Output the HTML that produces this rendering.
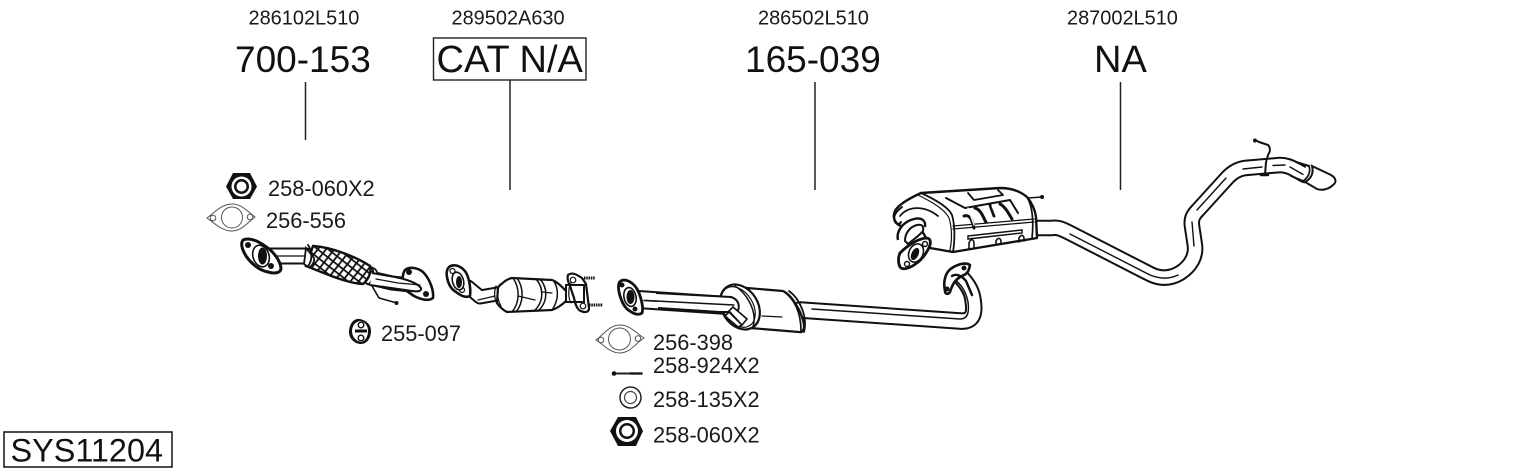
<!DOCTYPE html>
<html><head><meta charset="utf-8"><style>
html,body{margin:0;padding:0;background:#fff;width:1530px;height:474px;overflow:hidden}
svg{display:block}
text{font-family:"Liberation Sans",sans-serif;fill:#1a1a1a}
.s{font-size:19.95px}.m{font-size:21.8px}.b{font-size:37px;fill:#111}
.k{fill:none;stroke:#111;stroke-linecap:round;stroke-linejoin:round}
.w{fill:none;stroke:#fff;stroke-linecap:round;stroke-linejoin:round}
.f{fill:#fff;stroke:#111;stroke-width:2.4;stroke-linejoin:round}
.t{fill:none;stroke:#111;stroke-width:1.2;stroke-linecap:round;stroke-linejoin:round}
.h{fill:#fff;stroke:#111;stroke-width:1.6}
</style></head><body>
<svg width="1530" height="474" viewBox="0 0 1530 474" xmlns="http://www.w3.org/2000/svg">
<defs>
<pattern id="mesh" width="6.5" height="6.5" patternUnits="userSpaceOnUse" patternTransform="rotate(38)">
<rect width="6.5" height="6.5" fill="#fff"/>
<path d="M0 0H6.500M0 0V6.500" stroke="#111" stroke-width="3.600"/>
</pattern>
</defs>

<!-- labels -->
<text class="s" x="248.5" y="24.5">286102L510</text>
<text class="s" x="451.5" y="24.5">289502A630</text>
<text class="s" x="758" y="24.5">286502L510</text>
<text class="s" x="1067" y="24.5">287002L510</text>
<text class="b" x="235" y="72">700-153</text>
<text class="b" x="436.500" y="72" style="font-size:38px">CAT N/A</text>
<text class="b" x="745" y="72">165-039</text>
<text class="b" x="1094" y="72" style="font-size:38px">NA</text>
<rect x="433.5" y="38" width="152.500" height="42" fill="none" stroke="#222" stroke-width="1.4"/>
<path d="M305.5 82V140M510 80V190M815 82V190M1120.5 82V190" stroke="#222" stroke-width="1.5" fill="none"/>
<text class="m" x="268" y="196">258-060X2</text>
<text class="m" x="266" y="228">256-556</text>
<text class="m" x="381" y="341">255-097</text>
<text class="m" x="653" y="350">256-398</text>
<text class="m" x="653" y="373">258-924X2</text>
<text class="m" x="653" y="407">258-135X2</text>
<text class="m" x="653" y="442.500">258-060X2</text>
<rect x="4" y="432" width="168" height="35" fill="none" stroke="#111" stroke-width="1.5"/>
<text x="10.5" y="461.500" style="font-size:32.4px;fill:#111">SYS11204</text>

<!-- nut 1 -->
<path d="M233 173H250L257 186.500L250 199H233L226 186.500Z" fill="#111"/>
<circle cx="241.500" cy="186.500" r="10" fill="#fff"/>
<circle cx="241.500" cy="186.500" r="7.500" fill="#111"/><circle cx="241.500" cy="186.500" r="5" fill="#fff"/>
<!-- gasket 1 -->
<path d="M207 218C215 212 222 204 232 204C242 204 248 212 255 217C248 222 242 231 232 231C222 231 214 223 207 218Z" fill="#fff" stroke="#555" stroke-width="1"/>
<circle cx="232" cy="217.500" r="10.500" fill="#fff" stroke="#555" stroke-width="1"/>
<circle cx="213" cy="218" r="2.800" fill="#fff" stroke="#555"/><circle cx="250" cy="217" r="2.800" fill="#fff" stroke="#555"/>

<!-- front pipe -->
<path d="M264 256H306" class="k" stroke-width="17"/><path d="M264 256H306" class="w" stroke-width="13"/>
<path d="M274 256H305" class="t"/>
<path d="M370 278L392 283L420 286" class="k" stroke-width="15"/><path d="M370 278L392 283L420 286" class="w" stroke-width="11"/>
<path d="M378 279L395 282L420 284" class="t"/>
<path d="M372 286L379 298L397 303" class="t" style="stroke-width:1.6"/><circle cx="396.500" cy="303" r="2" fill="#111"/>
<path d="M313 246C330 247 355 256 370 266C372 272 368 280 363 284C345 283 322 272 306 266C309 258 311 252 313 246Z" fill="url(#mesh)" stroke="#111" stroke-width="2.400"/>
<path d="M306 248L314 258C315 262 311 268 308 267L304 264Z" fill="#fff" stroke="#111" stroke-width="1.800"/>
<path d="M308 245C312 250 313 260 308 266" class="t" style="stroke-width:1.800"/>
<path d="M371 267C374 270 375 278 369 284L376 286C380 280 378 272 375 269Z" fill="#fff" stroke="#111" stroke-width="1.800"/>
<path d="M243 240C250 237 258 241 265 246C273 251 280 260 281 268C281 273 275 274 268 272C258 270 250 262 246 256C243 251 240 244 243 240Z" class="f" style="stroke-width:3"/>
<circle cx="248" cy="245" r="3" fill="#111"/><circle cx="271" cy="266" r="3" fill="#111"/>
<ellipse cx="261" cy="256" rx="8" ry="11" transform="rotate(-18 261 256)" class="h"/>
<ellipse cx="262.500" cy="256" rx="4.500" ry="8.500" fill="#111"/>
<path d="M405 270C410 266 418 268 423 272C430 279 434 291 433 298C429 301 422 300 414 296L404 289C402 284 402 274 405 270Z" fill="#fff" stroke="#111" stroke-width="2.600" stroke-linejoin="round"/>
<circle cx="409" cy="272" r="3" fill="#111"/><circle cx="426" cy="294" r="3" fill="#111"/>
<path d="M372 273L395 277C410 280 418 284 421 288C422 291 418 292 412 291L370 285" fill="#fff" stroke="#111" stroke-width="2"/>
<path d="M376 279L398 283L420 285" class="t"/>

<!-- clamp -->
<path d="M360 319C368 321 371 326 371 331C371 338 367 344 361 344C355 344 349 339 349 332C349 325 353 318 360 319Z" fill="#111"/>
<path d="M360 321C366 322 368 327 368 331C368 337 365 341 361 342C356 341 352 337 352 331C352 326 355 322 360 321Z" fill="#fff"/>
<circle cx="361" cy="325" r="2.800" fill="#fff" stroke="#111" stroke-width="1.400"/><circle cx="361" cy="338" r="2.800" fill="#fff" stroke="#111" stroke-width="1.400"/>
<path d="M355 331H367" stroke="#111" stroke-width="3"/>

<!-- cat -->
<path d="M468 287L480 297L497 294" class="k" stroke-width="15"/><path d="M468 287L480 297L497 294" class="w" stroke-width="11"/>
<path d="M478 300L495 296" class="t"/>
<path d="M498 287C505 281 507 279 512 278L552 280C558 282 563 288 567 292L567 300C563 304 558 308 552 310L507 312C503 310 499 306 497 303Z" fill="#fff" stroke="#111" stroke-width="2.200" stroke-linejoin="round"/>
<path d="M496 286C494 292 494 298 497 304M500 284C497 291 497 299 501 306" class="t"/>
<path d="M513 278C520 288 520 302 512 312M517 278C524 288 524 302 516 312M536 279C544 288 544 302 534 311M540 279C548 288 548 302 538 311M553 280C559 288 559 300 552 310" class="t" style="stroke-width:1.500"/>
<path d="M518 296L535 300M542 292L552 293" class="t"/>
<path d="M566 285H584V302H566Z" fill="#fff" stroke="#111" stroke-width="2"/>
<path d="M571 283C568 288 568 298 571 303" class="t"/>
<path d="M449 267C453 264 459 265 464 270C469 275 471 288 470 296C466 298 461 296 456 292C451 289 448 283 447 277C446 273 447 269 449 267Z" fill="#fff" stroke="#111" stroke-width="2.600" stroke-linejoin="round"/>
<circle cx="452.500" cy="271" r="2.500" fill="#fff" stroke="#111" stroke-width="1.200"/><circle cx="462" cy="290" r="2.500" fill="#fff" stroke="#111" stroke-width="1.200"/>
<ellipse cx="458" cy="281" rx="5.500" ry="9" transform="rotate(-15 458 281)" class="h"/>
<ellipse cx="459" cy="282" rx="3" ry="6" fill="#111"/>
<path d="M568 275C572 272 576 274 582 278L586 284L589 308C589 313 584 313 579 310C576 307 575 303 574 298L570 286C568 282 567 278 568 275Z" fill="none" stroke="#111" stroke-width="2.200" stroke-linejoin="round"/>
<circle cx="573" cy="280" r="2.800" fill="#fff" stroke="#111" stroke-width="1.200"/><circle cx="583" cy="306" r="2.800" fill="#fff" stroke="#111" stroke-width="1.200"/>
<path d="M584 278H595M589 305H603" stroke="#111" stroke-width="3" stroke-dasharray="1.500 .8"/>

<!-- gasket 2 -->
<path d="M596 340C604 334 610 325 620 325C630 325 636 333 644 338C636 343 630 353 620 353C610 353 604 345 596 340Z" fill="#fff" stroke="#555" stroke-width="1"/>
<circle cx="619.500" cy="339" r="11" fill="#fff" stroke="#555" stroke-width="1"/>
<circle cx="601" cy="340" r="2.800" fill="#fff" stroke="#555"/><circle cx="638" cy="338.500" r="2.800" fill="#fff" stroke="#555"/>
<!-- bolt -->
<path d="M613 373.500H642" stroke="#222" stroke-width="2"/><circle cx="614" cy="373.500" r="2.300" fill="#111"/>
<path d="M630 373.500H643" stroke="#111" stroke-width="2.600" stroke-dasharray="1.500 .7"/>
<!-- washer -->
<circle cx="630.500" cy="397.500" r="10.500" fill="#fff" stroke="#222" stroke-width="1.500"/><circle cx="630.500" cy="397.500" r="6" fill="#fff" stroke="#444" stroke-width="1.200"/>
<!-- nut 2 -->
<path d="M618 417H636L643 431L636 446H618L610 431Z" fill="#111"/>
<circle cx="627" cy="431" r="11" fill="#fff"/><circle cx="627" cy="431" r="8" fill="#111"/><circle cx="627" cy="431" r="5.500" fill="#fff"/>

<!-- middle pipe -->
<path d="M800 310L960 321C974 322 975 312 973 300C972 290 966 282 958 274" class="k" stroke-width="17.500"/>
<path d="M800 310L960 321C974 322 975 312 973 300C972 290 966 282 958 274" class="w" stroke-width="13.500"/>
<path d="M812 309L960 319C969 319 969 310 968 302C966 292 962 285 954 279" class="t" style="stroke-width:1.500"/>
<path d="M945 291C943 282 945 272 952 268C958 264 966 262 970 265C969 270 968 273 964 275C957 278 953 282 950 292C948 295 945 294 945 291Z" fill="#fff" stroke="#111" stroke-width="2.600" stroke-linejoin="round"/>
<circle cx="964" cy="268" r="2.500" fill="#111"/><circle cx="947" cy="289" r="2.500" fill="#111"/>
<path d="M952 276C956 273 962 276 966 281L972 295" class="k" stroke-width="2.400"/>

<!-- front of middle: inlet pipe and muffler -->
<path d="M638 299.500L735 306" class="k" stroke-width="19"/><path d="M638 299.500L735 306" class="w" stroke-width="15"/>
<path d="M644 300.500L732 305" class="t" style="stroke-width:1.500"/>
<path d="M735 287L783 291C792 295 802 312 804 325C804 331 802 333 799 332L750 328Z" fill="#fff" stroke="#111" stroke-width="2.200" stroke-linejoin="round"/>
<path d="M783 291C794 298 801 312 801 331" class="t" style="stroke-width:1.700"/>
<path d="M789 291C799 298 808 316 804 332" class="t" style="stroke-width:1.800"/>
<path d="M762 316L782 317" class="t"/>
<ellipse cx="740" cy="307" rx="18" ry="24" transform="rotate(-32 740 307)" fill="#fff" stroke="#111" stroke-width="2.200"/>
<ellipse cx="738" cy="307" rx="15" ry="22" transform="rotate(-32 738 307)" class="t"/>
<path d="M735 286C745 292 758 310 753 327" class="t" style="stroke-width:1.500"/>
<path d="M656 293L731 297C738 299 741 306 737 312L720 312L658 308" fill="#fff" stroke="#111" stroke-width="2"/>
<path d="M646 300.500L734 305" class="t" style="stroke-width:1.500"/>
<path d="M729 311L733 307L747 319L742 325Z M725 316L729 312L742 325L738 327Z" fill="#fff" stroke="#111" stroke-width="1.600"/>
<path d="M619 283C622 278 629 280 634 285C640 291 644 307 642 313C638 316 632 313 627 309C622 304 617 291 619 283Z" fill="#fff" stroke="#111" stroke-width="2.800" stroke-linejoin="round"/>
<circle cx="622" cy="285" r="2.500" fill="#111"/><circle cx="635" cy="309" r="2.500" fill="#111"/>
<ellipse cx="630" cy="297" rx="6" ry="9.500" transform="rotate(-12 630 297)" class="h"/>
<ellipse cx="630.500" cy="297" rx="4" ry="7" fill="#111"/>

<!-- tail pipe -->
<path d="M1036 228H1052C1058 227 1062 229 1070 233L1150 274C1160 279 1170 279 1180 273C1191 266 1196 256 1195 246L1192 226C1191 219 1193 215 1198 210L1228 177C1233 172 1238 169 1245 168L1280 165C1286 165 1291 167 1296 170L1305 175" class="k" stroke-width="16.500"/>
<path d="M1036 228H1052C1058 227 1062 229 1070 233L1150 274C1160 279 1170 279 1180 273C1191 266 1196 256 1195 246L1192 226C1191 219 1193 215 1198 210L1228 177C1233 172 1238 169 1245 168L1280 165C1286 165 1291 167 1296 170L1305 175" class="w" stroke-width="12.500"/>
<path d="M1070 234L1150 275C1160 279 1170 279 1178 275M1194 246L1192 222M1197 210L1226 178M1243 169L1262 167M1273 165.500L1285 165M1290 167L1304 175" class="t" style="stroke-width:1.400"/>
<path d="M1306 164L1331 175C1336 178 1337 182 1333 185C1329 189 1322 191 1317 189L1301 180C1304 174 1306 169 1306 164Z" fill="#fff" stroke="#fff" stroke-width="0"/>
<path d="M1312 166L1331 175C1336 178 1337 182 1333 185C1329 189 1322 191 1317 189L1305 182C1311 179 1314 173 1312 166Z" fill="#fff" stroke="#111" stroke-width="2"/>
<path d="M1309 166C1311 172 1308 178 1303 181" class="t" style="stroke-width:1.700"/>
<path d="M1296 162L1309 166M1291 176L1303 181" class="t" style="stroke-width:2"/>
<path d="M1255 140L1259 142L1268 145C1271 148 1270 152 1268 155L1266 162L1265 175" class="t" style="stroke-width:2"/>
<circle cx="1255" cy="140.500" r="2" fill="#111"/>
<path d="M1261 175H1268" stroke="#111" stroke-width="2.500" stroke-linecap="round"/>

<!-- rear muffler -->
<path d="M1028 198L1042 197" stroke="#111" stroke-width="1.500"/><circle cx="1042" cy="197" r="2" fill="#111"/>
<path d="M921 193L1000 188C1010 188 1020 191 1027 197C1032 203 1035 210 1036 217L1037 238L953 252L930 248C926 240 925 232 918 228L901 226C895 224 892 217 895 211C898 205 908 199 921 193Z" fill="#fff" stroke="#111" stroke-width="2.400" stroke-linejoin="round"/>
<path d="M921 193C932 198 948 206 952 215C955 225 955 240 953 252" class="t" style="stroke-width:1.800"/>
<path d="M918 195C930 201 945 209 949 218C952 228 952 240 950 250" class="t"/>
<path d="M953 226L1034 219M953 229L1034 222" class="k" stroke-width="1.300"/>
<path d="M1027 197C1032 205 1034 220 1032 238" class="t" style="stroke-width:1.700"/>
<path d="M968 193L974 200L1003 195L998 190" class="t" style="stroke-width:1.800"/>
<path d="M946 198L965 208L1010 200L1018 213" class="t" style="stroke-width:2"/>
<path d="M964 216C970 214 972 220 974 228M975 208C982 210 984 220 986 222M990 205L994 216M1000 204C1006 207 1010 216 1012 219" class="k" stroke-width="3"/>
<path d="M968 208L974 225M992 206L997 218" class="w" stroke-width="1.200"/>
<path d="M968 236L1022 230L1022 233L968 239Z" fill="none" stroke="#111" stroke-width="1.500"/>
<path d="M969 249V243C971 238 974 239 974 244V248M996 245V241C998 237 1001 238 1001 242V244M1019 242V238C1021 234 1024 235 1024 239V241" class="t" style="stroke-width:1.600"/>
<path d="M902 207C894 213 893 218 895 222C897 225 900 224 901 222" class="t" style="stroke-width:2"/>
<path d="M900 216C908 206 924 205 938 216" class="t" style="stroke-width:1.800"/>
<path d="M898 240C896 232 902 222 914 219C922 217 926 221 925 227" fill="#fff" stroke="#111" stroke-width="2.400"/>
<path d="M905 241C905 234 909 227 917 225C922 224 924 226 923 231C920 235 914 239 908 244Z" fill="#fff" stroke="#111" stroke-width="2"/>
<path d="M900 253C907 246 917 239 926 238C930 238 931 241 930 245C927 253 922 260 914 265C908 269 902 270 900 267C898 263 898 257 900 253Z" fill="#fff" stroke="#111" stroke-width="2.800" stroke-linejoin="round"/>
<circle cx="907" cy="264" r="2.500" fill="#fff" stroke="#111" stroke-width="1.400"/><circle cx="925" cy="244" r="2.500" fill="#fff" stroke="#111" stroke-width="1.400"/>
<ellipse cx="916" cy="253" rx="7" ry="9.500" transform="rotate(25 916 253)" class="h"/>
<ellipse cx="915" cy="254" rx="3.500" ry="6.500" transform="rotate(25 915 254)" fill="#111"/>
</svg>
</body></html>
